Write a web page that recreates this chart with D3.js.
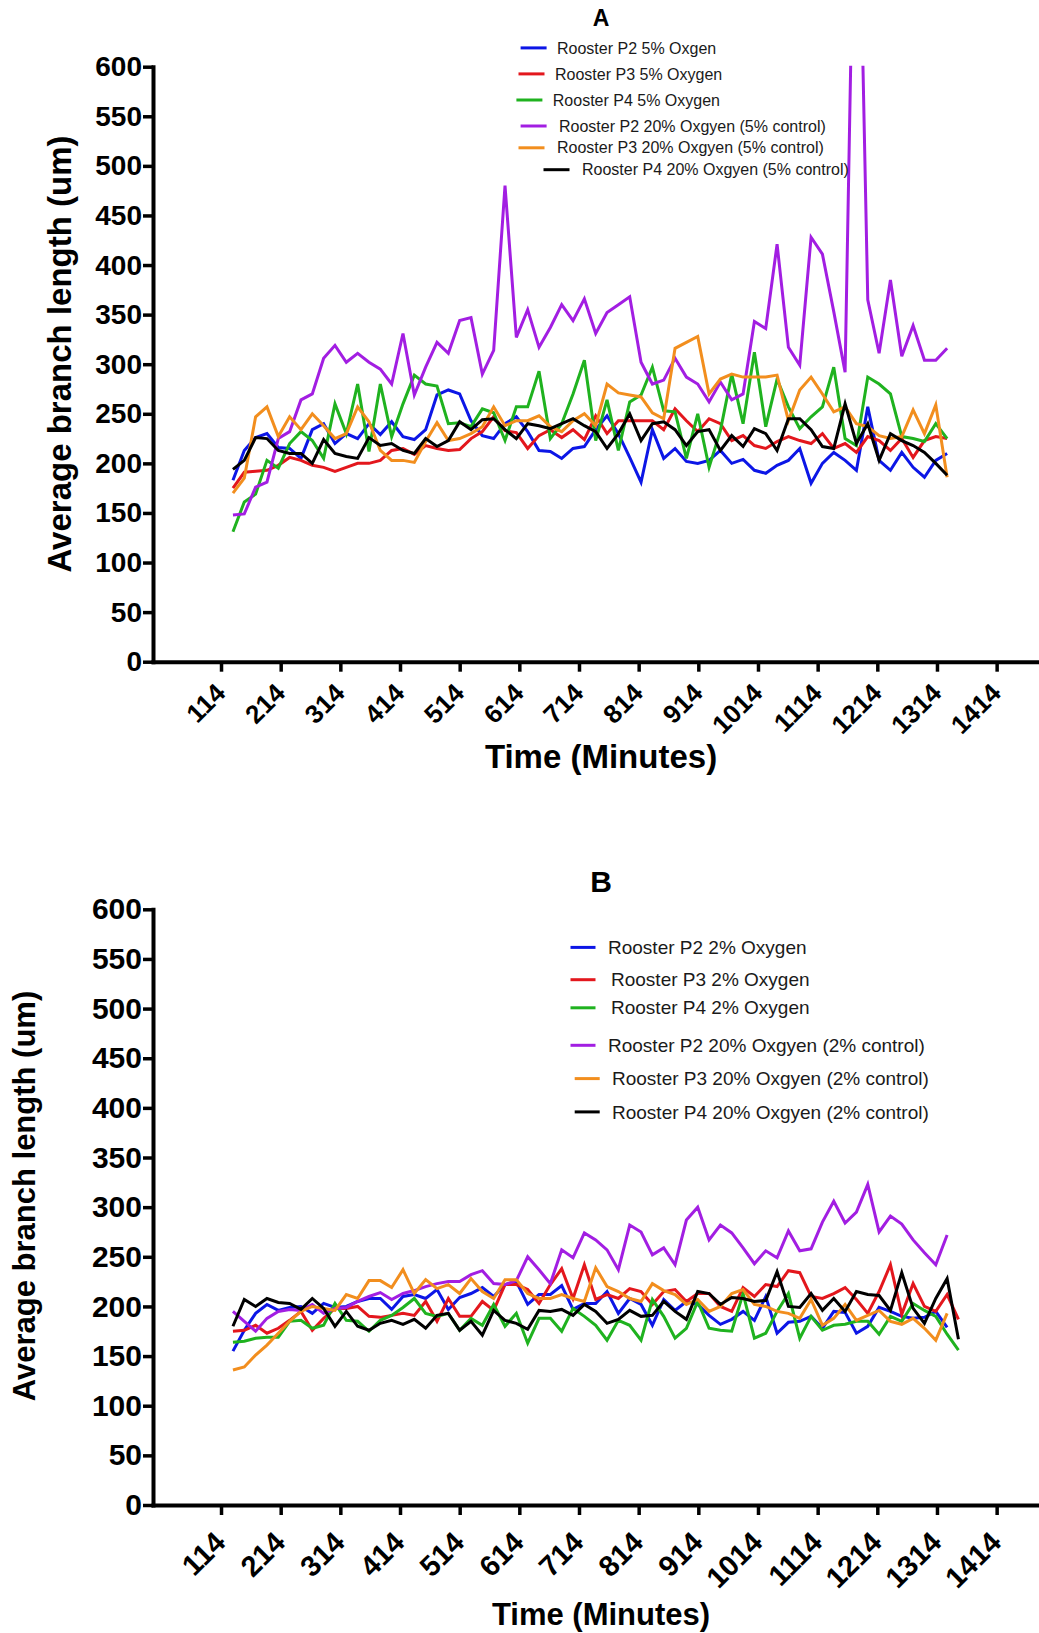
<!DOCTYPE html>
<html>
<head>
<meta charset="utf-8">
<script src="https://cdn.jsdelivr.net/npm/d3@7"></script>
<style>
  body { margin: 0; background: #fff; }
  svg { display: block; }
  text { font-family: "Liberation Sans", Arial, Helvetica, sans-serif; }
</style>
</head>
<body>
<svg id="chart" width="1039" height="1633"></svg>
<script>
// ---------- DATA ----------
const times = [134,153,172,191,210,229,248,267,286,305,324,343,362,381,400,419,438,457,476,495,514,533,552,571,590,609,628,647,666,685,704,723,742,761,780,799,818,837,856,875,894,913,932,951,970,989,1008,1027,1046,1065,1084,1103,1122,1141,1160,1179,1198,1217,1236,1255,1274,1293,1312,1331,1350];
const xTickValues = [114,214,314,414,514,614,714,814,914,1014,1114,1214,1314,1414];
const yTickValues = [0,50,100,150,200,250,300,350,400,450,500,550,600];

const namesA = ["Rooster P2 5% Oxgen","Rooster P3 5% Oxygen","Rooster P4 5% Oxygen","Rooster P2 20% Oxgyen (5% control)","Rooster P3 20% Oxgyen (5% control)","Rooster P4 20% Oxgyen (5% control)"];
const namesB = ["Rooster P2 2% Oxygen","Rooster P3 2% Oxygen","Rooster P4 2% Oxygen","Rooster P2 20% Oxgyen (2% control)","Rooster P3 20% Oxgyen (2% control)","Rooster P4 20% Oxgyen (2% control)"];
const seriesColors = ["#0c16e6","#e3171d","#1fb21f","#a21ee2","#f28e1e","#000000"];

// Panel A
const aP2_5 = [183,213,226,230,216,215,205,234,240,220,230,225,240,229,242,227,224,234,269,274,270,243,228,225,240,247,232,213,212,205,215,217,234,248,230,206,181,234,205,215,202,200,203,213,200,204,193,190,198,203,215,180,200,211,203,193,257,203,193,211,196,186,203,210];
const aP3_5 = [175,191,192,193,198,206,203,198,196,192,196,200,200,203,213,215,209,218,215,213,214,225,232,247,233,231,215,228,234,226,234,224,248,230,243,243,243,243,234,255,243,232,245,240,223,228,218,215,222,227,223,220,230,215,220,211,227,223,213,225,206,223,227,225];
const aP4_5 = [131,161,169,203,195,220,232,223,205,260,230,280,212,280,227,260,289,280,278,240,241,237,255,251,223,257,257,293,225,240,270,304,223,264,213,262,269,297,253,252,205,250,196,233,290,240,312,237,285,257,235,247,257,297,225,218,287,280,270,227,225,222,240,225];
const aP2_20 = [148,149,176,181,225,232,264,270,306,319,302,311,302,295,280,331,269,297,322,311,344,347,290,314,480,327,355,317,337,360,344,366,331,352,360,368,302,280,284,306,287,280,262,282,264,270,343,336,421,317,299,428,411,353,292,920,365,311,385,308,339,304,304,316];
const aP3_20 = [170,185,247,257,227,247,234,250,238,225,230,257,242,213,203,203,201,222,241,223,225,230,237,257,238,243,243,248,237,232,243,250,238,280,271,269,267,251,245,316,322,328,270,285,290,287,287,287,289,243,274,287,270,252,257,240,237,228,225,227,254,230,259,186];
const aP4_20 = [194,203,226,225,213,210,210,200,224,210,207,205,226,218,220,213,210,225,217,223,242,234,244,245,234,225,240,238,235,240,245,238,232,215,230,250,223,240,242,234,218,232,234,213,228,217,235,230,213,245,245,234,217,215,260,220,240,203,230,223,218,211,200,188];

// Panel B
const bP2_2 = [155,176,193,202,196,199,200,193,203,199,200,205,208,208,197,210,212,208,217,197,209,213,219,210,222,225,202,212,212,221,197,203,203,215,193,208,202,181,207,196,205,202,191,182,187,195,186,210,173,184,185,190,178,195,194,173,180,199,195,190,188,189,195,179];
const bP3_2 = [175,176,181,173,178,186,195,176,188,198,198,200,190,189,191,193,191,205,185,208,190,190,205,196,222,222,217,203,222,238,208,242,207,212,208,218,215,202,215,217,205,213,213,200,195,219,210,222,220,236,234,210,208,213,219,207,193,215,242,192,223,200,195,212,187];
const bP4_2 = [164,165,168,169,169,185,186,178,181,203,186,185,175,186,191,199,208,193,190,193,176,188,181,202,180,193,163,188,188,175,198,190,181,166,186,181,166,207,190,168,178,205,178,176,175,213,168,173,195,213,168,190,176,181,182,185,185,172,190,185,203,196,190,172,156];
const bP2_20 = [195,185,175,188,195,197,196,202,193,198,199,205,210,214,207,213,216,220,223,225,225,232,236,223,222,226,250,237,223,257,249,274,267,257,237,282,275,252,259,242,287,300,267,282,274,259,243,256,249,276,256,258,285,306,284,295,323,275,291,283,267,254,242,272];
const bP3_20 = [136,139,151,161,173,185,195,200,198,196,212,208,226,226,219,237,213,227,218,222,213,228,215,208,227,227,213,208,208,212,208,205,239,220,215,208,205,223,216,212,202,207,195,200,213,217,202,200,195,193,188,207,181,188,202,186,191,196,185,182,188,178,166,193];
const bP4_20 = [180,207,200,208,204,203,197,208,198,180,195,180,176,183,186,182,187,178,191,193,176,185,171,196,186,183,177,196,195,197,191,202,195,183,187,196,190,191,205,195,187,215,213,202,209,208,205,206,235,200,199,213,196,208,195,215,212,211,196,234,198,183,208,228,167];

// ---------- DRAWING ----------
const svg = d3.select("#chart");
const defs = svg.append("defs");

function drawPanel(cfg) {
  const x = d3.scaleLinear().domain([0, 1485]).range([153, 1039]);
  const y = d3.scaleLinear().domain([0, 600]).range([cfg.bottom, cfg.top]);
  const g = svg.append("g");

  defs.append("clipPath").attr("id", "clip" + cfg.id)
    .append("rect")
    .attr("x", 153).attr("y", y(600) - 1)
    .attr("width", 1039 - 153).attr("height", y(0) - y(600) + 1);

  const line = d3.line().x((d, i) => x(times[i])).y(d => y(d));
  const plot = g.append("g").attr("clip-path", `url(#clip${cfg.id})`);
  cfg.series.forEach((s, i) => {
    plot.append("path").datum(s)
      .attr("fill", "none")
      .attr("stroke", seriesColors[i])
      .attr("stroke-width", 3)
      .attr("stroke-linejoin", "miter")
      .attr("d", line);
  });

  // y axis
  const yAxis = d3.axisLeft(y).tickValues(yTickValues).tickSize(10).tickSizeOuter(0).tickPadding(1);
  const ya = g.append("g").attr("transform", "translate(153,0)").call(yAxis);
  ya.select(".domain").attr("stroke", "#000").attr("stroke-width", 4).attr("stroke-linecap", "square");
  ya.selectAll(".tick line").attr("stroke", "#000").attr("stroke-width", 3.5);
  ya.selectAll(".tick text").attr("fill", "#000").attr("font-weight", "bold")
    .attr("font-size", cfg.yTickSize).attr("font-family", null);

  // x axis
  const xAxis = d3.axisBottom(x).tickValues(xTickValues).tickSize(10).tickSizeOuter(0).tickFormat(d3.format("d"));
  const xa = g.append("g").attr("transform", `translate(0,${cfg.bottom})`).call(xAxis);
  xa.select(".domain").attr("stroke", "#000").attr("stroke-width", 4).attr("stroke-linecap", "square");
  xa.selectAll(".tick line").attr("stroke", "#000").attr("stroke-width", 3.5);
  xa.selectAll(".tick text")
    .attr("fill", "#000").attr("font-weight", "bold").attr("font-size", cfg.xTickSize)
    .attr("font-family", null)
    .attr("x", 0).attr("y", 0).attr("dy", "0.35em")
    .attr("text-anchor", "end")
    .attr("transform", `translate(${cfg.xTickDx},${cfg.xTickOffset}) rotate(-45)`);

  // titles
  g.append("text").attr("x", 601).attr("y", cfg.titleY)
    .attr("text-anchor", "middle").attr("font-weight", "bold").attr("font-size", cfg.titleSize)
    .text(cfg.title);
  g.append("text").attr("x", 601).attr("y", cfg.xTitleY)
    .attr("text-anchor", "middle").attr("font-weight", "bold").attr("font-size", cfg.xTitleSize)
    .text("Time (Minutes)");
  g.append("text")
    .attr("transform", `translate(${cfg.yTitleX},${cfg.yTitleY}) rotate(-90)`)
    .attr("text-anchor", "middle").attr("font-weight", "bold").attr("font-size", cfg.yTitleSize)
    .text("Average branch length (um)");

  // legend
  const lg = g.append("g");
  cfg.legend.forEach((r, i) => {
    lg.append("line").attr("x1", r[0]).attr("x2", r[0] + cfg.legLen)
      .attr("y1", r[1]).attr("y2", r[1])
      .attr("stroke", seriesColors[i]).attr("stroke-width", 3);
    lg.append("text").attr("x", r[2]).attr("y", r[1]).attr("dy", "0.35em")
      .attr("font-size", cfg.legSize).attr("fill", "#1a1a1a")
      .text(cfg.names[i]);
  });
}

drawPanel({
  id: "A", title: "A", titleY: 26, titleSize: 23,
  top: 66.7, bottom: 661.7,
  yTickSize: 28, xTickSize: 26, xTickOffset: 26.5, xTickDx: -1,
  xTitleY: 768, xTitleSize: 33,
  yTitleX: 71, yTitleY: 354, yTitleSize: 33,
  series: [aP2_5, aP3_5, aP4_5, aP2_20, aP3_20, aP4_20],
  names: namesA, legSize: 16, legLen: 26,
  legend: [[520.6,47.9,557],[518.5,73.9,555],[516.4,100,552.8],[520.6,126,559],[518.5,147.8,557],[543.5,169.7,582]]
});

drawPanel({
  id: "B", title: "B", titleY: 892, titleSize: 30,
  top: 909.3, bottom: 1505,
  yTickSize: 30, xTickSize: 29, xTickOffset: 32, xTickDx: -1.5,
  xTitleY: 1625, xTitleSize: 31,
  yTitleX: 35, yTitleY: 1196, yTitleSize: 31,
  series: [bP2_2, bP3_2, bP4_2, bP2_20, bP3_20, bP4_20],
  names: namesB, legSize: 19, legLen: 25,
  legend: [[570.5,947.4,608],[570.5,979.7,611],[570.5,1007.8,611],[570.5,1045.3,608],[574.7,1078.6,612],[574.7,1111.9,612]]
});
</script>
</body>
</html>
